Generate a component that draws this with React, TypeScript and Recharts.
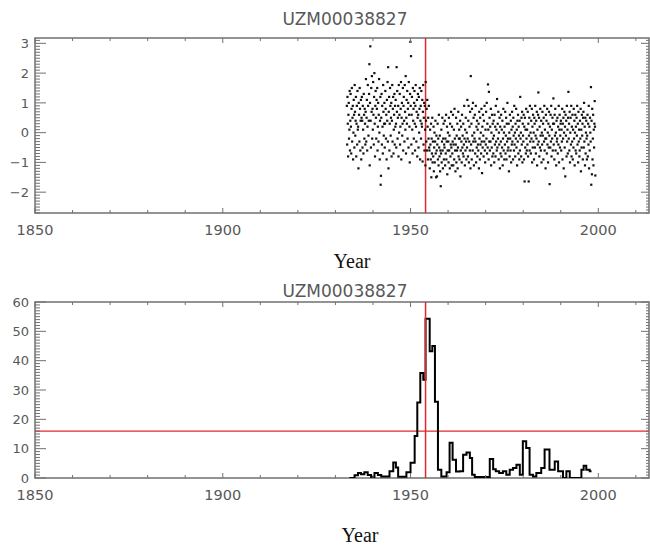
import React from "react";
import {ComposedChart, Scatter, Line, XAxis, YAxis, ReferenceLine, ReferenceArea} from "recharts";

const STATION = "UZM00038827";
const X_LABEL_TICKS = [1850, 1900, 1950, 2000];
const X_TICKS = [1850, 1860, 1870, 1880, 1890, 1900, 1910, 1920, 1930, 1940, 1950, 1960, 1970, 1980, 1990, 2000, 2010];
const TOP_Y_LABELS = [-2, -1, 0, 1, 2, 3];
const BOTTOM_Y_LABELS = [0, 10, 20, 30, 40, 50, 60];
const BREAK_YEAR = 1954;
const THRESHOLD = 16;

// monthly anomalies, one row per year, starting 1933
const ANOM_START = 1933;
const ANOM_1930S = [
  [0.9, -0.4, 1.2, 0.3, -0.8, 0.6, 1.0, -0.2, 0.1, 1.4, -0.6, 0.4],
  [1.3, 0.2, -0.7, 0.8, 1.5, -0.3, 0.5, 0.9, -0.9, 0.0, 1.1, 0.6],
  [-0.5, 1.6, 0.7, -0.1, 0.4, 1.2, -0.8, 0.3, 0.9, -0.4, 1.4, 0.1],
  [0.2, -1.2, 1.0, 0.6, -0.3, 1.5, 0.8, -0.6, 0.4, 1.1, -0.9, 0.5],
  [1.2, 0.4, -0.5, 0.9, 0.1, -0.7, 1.3, 0.6, -0.2, 0.8, 0.3, -0.4],
  [0.7, 1.8, -0.3, 0.5, 1.1, -0.6, 0.2, 1.6, 0.9, -0.1, 0.4, 1.3],
  [2.3, -1.1, 1.0, 2.9, 0.4, -0.5, 1.5, 0.7, 1.9, -0.2, 0.8, 0.1],
];
const ANOM_1940S = [
  [1.7, 0.6, -0.4, 1.2, 2.0, 0.3, -0.8, 0.9, 1.4, 0.5, -0.2, 1.1],
  [0.8, 1.5, -0.6, 0.2, 1.0, -0.3, 0.6, 1.8, 0.0, -0.9, 0.4, 1.2],
  [-1.75, -1.45, 0.5, 1.3, -0.4, 0.9, 0.2, -0.7, 1.6, 0.7, -0.1, 0.3],
  [1.0, -0.5, 0.3, 1.4, 0.8, -0.2, 0.6, -0.9, 1.1, 0.4, 1.7, -0.3],
  [2.2, -1.2, 0.7, 1.2, -0.6, 0.3, 1.5, 0.9, -0.1, 0.5, 1.0, -0.8],
  [0.4, 1.6, -0.3, 0.8, 1.2, -0.7, 0.1, 0.6, 1.3, -0.4, 0.9, 0.2],
  [1.1, 0.3, -0.5, 2.2, 0.7, 1.4, -0.2, 0.5, 0.9, -0.8, 1.6, 0.0],
  [0.6, 1.3, -0.4, 0.2, 0.8, 1.7, -0.9, 0.5, 1.0, -0.1, 0.3, 1.5],
  [-0.6, 0.9, 1.2, 0.4, -0.3, 1.6, 0.7, 0.1, 1.9, -0.7, 0.5, 1.1],
  [0.3, 1.4, -0.2, 0.8, 1.0, -0.5, 1.7, 0.6, 0.2, -1.0, 1.3, 3.05],
];
const ANOM_1950S = [
  [0.9, 2.57, -0.4, 0.6, 1.2, 0.1, -0.7, 1.5, 0.4, 0.8, -0.2, 1.0],
  [1.4, 0.3, -0.6, 0.9, 1.6, 0.2, -0.3, 0.7, 1.1, -0.8, 0.5, 1.3],
  [0.6, -0.5, 1.2, 0.0, 0.8, 1.5, -0.9, 0.4, 0.9, -0.2, 1.4, 0.3],
  [0.2, 1.1, -0.97, 0.7, 1.6, -0.4, 0.5, 1.0, -0.6, 0.9, 0.1, -1.1],
  [1.7, 0.4, -0.3, 0.8, -0.6, 1.1, 0.2, -0.9, 0.5, -0.2, 0.9, -0.5],
  [-0.6, -1.2, 0.1, -0.4, -0.9, 0.3, -1.5, -0.2, -0.7, 0.5, -1.0, -0.3],
  [-0.8, 0.2, -1.3, -0.5, 0.0, -1.0, -0.3, 0.4, -0.7, -1.5, -0.1, -0.6],
  [-1.47, -0.4, 0.3, -0.9, -0.2, -1.1, 0.6, -0.5, -0.8, -0.1, -1.3, -0.6],
  [-1.8, -0.7, 0.1, -1.0, -0.3, 0.5, -0.6, -1.2, -0.2, 0.3, -0.9, -0.4],
  [-0.5, 0.4, -1.1, -0.2, -0.7, 0.6, -0.9, -0.3, 0.2, -1.4, -0.6, 0.0],
];
const ANOM_1960S = [
  [-0.3, -1.0, 0.5, -0.6, -0.1, -1.2, 0.3, -0.8, -0.4, 0.7, -0.5, -1.1],
  [0.2, -0.7, -0.3, 0.6, -1.1, -0.4, 0.1, -0.9, 0.8, -0.2, -0.6, -1.3],
  [-0.4, 0.5, -1.0, -0.1, -0.6, 0.3, -1.2, -0.5, 0.7, -0.8, -0.2, 0.1],
  [-0.9, -0.2, 0.4, -1.47, -0.6, 0.2, -0.3, -1.0, 0.6, -0.5, -0.1, -0.7],
  [0.3, -0.8, -0.4, 0.9, -0.2, -1.1, 0.1, -0.6, 0.5, -0.3, -0.9, 0.0],
  [-0.5, 1.1, -0.2, -0.8, 0.4, 0.9, -1.0, -0.3, 0.2, -0.6, 0.7, -1.2],
  [1.9, -0.4, 0.3, -0.9, 0.8, -0.1, -0.6, 1.0, -0.3, 0.5, -1.1, 0.0],
  [-0.2, 0.6, -0.7, -0.3, 0.9, -1.0, 0.2, -0.5, 0.4, -0.8, 0.1, -0.4],
  [-0.6, 0.3, -1.2, 0.7, -0.2, -0.9, 0.5, -0.4, 0.0, -0.7, 0.8, -0.3],
  [-1.36, 0.2, -0.5, 0.6, -0.1, -0.8, 0.4, -0.3, 0.9, -0.6, -1.0, 0.1],
];
const ANOM_1970S = [
  [-0.4, 0.7, -0.2, 1.0, -0.7, 0.3, -0.5, 1.62, 0.1, -0.9, 1.37, -0.3],
  [0.5, -0.6, 0.2, -0.3, 0.8, -1.1, 0.0, -0.5, 0.6, -0.8, 0.3, -0.2],
  [-0.7, 0.4, -0.1, -1.0, 0.6, -0.4, 0.2, -0.8, 0.9, -0.3, 0.1, -0.6],
  [1.13, -0.5, 0.3, -0.2, 0.7, -0.9, 0.0, -0.4, 0.5, -1.2, 0.2, -0.7],
  [-0.3, 0.6, -0.8, 0.1, -0.5, 0.4, -1.1, -0.2, 0.8, -0.6, 0.0, -0.9],
  [0.2, -0.4, 0.7, -0.7, -0.1, 0.5, -0.9, 0.3, -0.3, 1.0, -0.6, -0.2],
  [-0.5, 0.3, -1.3, 0.0, -0.8, 0.6, -0.2, -0.6, 0.4, -1.0, 0.1, -0.4],
  [0.7, -0.3, 0.2, -0.9, 0.5, -0.1, -0.6, 0.9, -0.4, 0.0, -0.8, 0.3],
  [-0.2, 0.8, -0.5, 0.1, -1.1, 0.4, -0.3, 0.6, -0.7, 0.2, -0.1, -0.9],
  [0.4, -0.6, 1.2, -0.2, 0.0, -0.8, 0.5, -0.4, 0.7, -1.0, 0.3, -0.1],
];
const ANOM_1980S = [
  [-0.3, 0.6, -0.9, 0.2, -1.64, 0.5, -0.5, 0.1, -0.7, 0.8, -0.2, -0.6],
  [0.1, -0.4, 0.7, -0.8, 0.3, -1.64, -0.1, 0.5, -0.6, 0.9, -0.3, 0.0],
  [-0.7, 0.4, -0.2, 0.8, -1.0, 0.2, -0.5, 0.6, -0.3, 0.0, -0.9, 0.5],
  [0.3, -0.5, 0.9, -0.1, -0.7, 0.4, -0.2, 0.7, -1.1, 0.1, -0.4, 0.6],
  [1.35, -0.3, 0.5, -0.8, 0.2, -0.5, 0.8, -0.1, -0.6, 0.4, -1.0, 0.0],
  [-0.4, 0.7, -0.1, 0.3, -0.9, 0.5, -0.3, 0.9, -0.6, 0.1, -0.2, -1.2],
  [0.6, -0.2, 0.4, -0.7, 0.8, -0.4, 0.0, -1.0, 0.3, -0.5, 0.7, -0.1],
  [-1.73, 0.2, -0.5, 0.6, -0.3, 0.9, -0.8, 0.1, -0.2, 0.5, -0.6, 0.3],
  [1.15, -0.4, 0.3, -0.9, 0.6, -0.1, 0.8, -0.6, 0.0, -1.1, 0.4, -0.3],
  [-0.2, 0.5, -0.7, 0.2, -0.4, 0.9, -1.0, 0.1, 0.6, -0.5, -0.1, 0.3],
];
const ANOM_1990S = [
  [0.4, -0.6, 0.1, -0.3, 0.8, -0.9, 0.3, -0.2, 0.5, -1.2, 0.0, 0.7],
  [-0.5, 0.2, -1.47, 0.6, -0.1, 0.4, -0.8, 0.9, -0.3, 0.1, -0.7, 0.5],
  [1.37, -0.2, 0.3, -0.6, 0.7, -1.0, 0.0, 0.5, -0.4, 0.9, -0.8, 0.2],
  [-0.3, 0.6, -0.9, 0.1, -0.5, 0.8, -0.2, 0.4, -1.1, 0.0, 0.6, -0.6],
  [0.2, -0.7, 0.5, -0.1, 0.9, -0.4, 0.3, -1.0, 0.7, -0.3, 0.1, -0.8],
  [-0.6, 0.4, -0.2, 0.8, -1.3, 0.1, -0.5, 0.6, -0.1, 0.3, -0.9, 0.5],
  [0.7, -0.5, 1.0, -0.3, 0.2, -1.1, 0.5, -0.7, 0.0, 0.4, -0.2, -0.9],
  [-0.1, 0.6, -0.8, 0.3, -0.4, 0.9, -1.2, 0.2, -0.6, 0.5, 0.0, -0.3],
  [1.53, -1.75, 0.4, -1.4, 0.8, -0.9, -0.2, 0.6, -1.1, 0.1, -0.5, 0.3],
  [1.06, 0.2, -1.44],
];

// step series: start of each step and its value
const COUNT_YEARS = [
  1933.7, 1935.1, 1936.0, 1936.8, 1937.7, 1938.6, 1939.5, 1940.4, 1941.3, 1942.2,
  1944.4, 1945.4, 1946.1, 1946.7, 1948.9, 1950.0, 1951.1, 1951.8, 1952.6, 1953.4,
  1954.0, 1955.1, 1955.8, 1956.5, 1957.3, 1958.2, 1959.6, 1960.4, 1961.2, 1962.1,
  1963.1, 1964.0, 1964.9, 1965.8, 1966.4, 1967.1, 1971.1, 1972.0, 1972.7, 1973.6,
  1974.6, 1975.5, 1976.4, 1977.3, 1978.2, 1979.1, 1979.9, 1980.8, 1981.7, 1982.6,
  1983.5, 1984.8, 1985.7, 1987.0, 1988.4, 1989.3, 1990.6, 1991.5, 1992.4, 1995.5,
  1996.1, 1996.8, 1997.7, 1998.2,
];
const COUNT_VALUES = [
  0, 0.9, 1.7, 1.3, 2.0, 1.0, 0.3, 1.7, 1.0, 0.5,
  2.3, 5.3, 3.6, 0.4, 2.0, 5.2, 14.3, 25.7, 35.8, 33.5,
  54.3, 43.2, 45.0, 26.0, 2.8, 0.5, 2.0, 12.0, 6.2, 2.2,
  2.3, 7.9, 8.7, 6.8, 1.1, 0.3, 6.5, 3.0, 2.3, 1.7,
  2.3, 1.1, 2.8, 3.4, 4.5, 1.1, 12.5, 10.2, 1.1, 0.5,
  1.7, 3.4, 9.7, 2.8, 5.6, 2.3, 0, 2.3, 0, 2.8,
  4.2, 2.8, 2.3, 2.3,
];

const anomPoints = [...ANOM_1930S, ...ANOM_1940S, ...ANOM_1950S, ...ANOM_1960S, ...ANOM_1970S, ...ANOM_1980S, ...ANOM_1990S]
  .flatMap((row, i) => row.map((v, m) => ({year: ANOM_START + i + (m + 0.5) / 12, v})));
const countData = COUNT_YEARS.map((year, i) => ({year, n: COUNT_VALUES[i]}));

const topMinor = Array.from({length: 59}, (_, i) => Math.round((-2.7 + i * 0.1) * 10) / 10);
const bottomMinor = Array.from({length: 61}, (_, i) => i);

const X_DOMAIN = [1850, 2013.5];
const LEFT = 35;
const RIGHT = 649;
const AXIS = "#707070";
const TEXT = "#585858";
const RED = "#e3262b";
const SANS = "'DejaVu Sans', sans-serif";

const makeXTick = (top: number, bottom: number) => (p: any) => {
  const v = p.payload.value;
  const labelled = X_LABEL_TICKS.includes(v);
  const len = labelled ? 5 : 3;
  return (
    <g>
      <line x1={p.x} x2={p.x} y1={bottom} y2={bottom - len} stroke={AXIS}/>
      <line x1={p.x} x2={p.x} y1={top} y2={top + len} stroke={AXIS}/>
      {labelled && (
        <text x={p.x} y={bottom + 22} textAnchor="middle" fill={TEXT} fontSize={14.5} fontFamily={SANS}>{v}</text>
      )}
    </g>
  );
};

const makeYTick = (labels: number[]) => (p: any) => {
  const v = p.payload.value;
  const labelled = labels.includes(v);
  return (
    <g>
      <line x1={LEFT} x2={LEFT + (labelled ? 11 : 5)} y1={p.y} y2={p.y} stroke={AXIS}/>
      <line x1={RIGHT} x2={RIGHT - (labelled ? 8 : 3)} y1={p.y} y2={p.y} stroke={AXIS}/>
      {labelled && (
        <text x={29} y={p.y + 4.7} textAnchor="end" fill={TEXT} fontSize={13} fontFamily={SANS}>
          {v < 0 ? `\u2212${-v}` : v}
        </text>
      )}
    </g>
  );
};

const dot = (p: any) => <rect x={p.cx - 1.1} y={p.cy - 1.1} width={2.2} height={2.2} fill="#111"/>;

export default function App() {
  return (
    <div style={{position: "absolute", left: 0, top: 0, width: 650, height: 548, background: "#fff"}}>
      <div style={{position: "absolute", left: 0, top: 0}}>
        <ComposedChart width={650} height={260} margin={{top: 38, right: 1, bottom: 17, left: 0}}>
          <XAxis type="number" dataKey="year" domain={X_DOMAIN} ticks={X_TICKS} interval={0}
                 allowDataOverflow axisLine={false} tickLine={false} height={30}
                 tick={makeXTick(38, 213)}/>
          <YAxis type="number" dataKey="v" domain={[-2.7, 3.18]} ticks={topMinor} interval={0}
                 allowDataOverflow axisLine={false} tickLine={false} width={35}
                 tick={makeYTick(TOP_Y_LABELS)}/>
          <ReferenceArea x1={X_DOMAIN[0]} x2={X_DOMAIN[1]} y1={-2.7} y2={3.18}
                         fill="none" fillOpacity={0} stroke={AXIS} strokeWidth={1.5}/>
          <Scatter data={anomPoints} dataKey="v" shape={dot} isAnimationActive={false}/>
          <ReferenceLine x={BREAK_YEAR} stroke={RED} strokeWidth={1.5}/>
        </ComposedChart>
      </div>
      <div style={{position: "absolute", left: 0, top: 264}}>
        <ComposedChart width={650} height={270} data={countData} margin={{top: 38, right: 1, bottom: 26, left: 0}}>
          <XAxis type="number" dataKey="year" domain={X_DOMAIN} ticks={X_TICKS} interval={0}
                 allowDataOverflow axisLine={false} tickLine={false} height={30}
                 tick={makeXTick(38, 214)}/>
          <YAxis type="number" dataKey="n" domain={[0, 60]} ticks={bottomMinor} interval={0}
                 allowDataOverflow axisLine={false} tickLine={false} width={35}
                 tick={makeYTick(BOTTOM_Y_LABELS)}/>
          <ReferenceArea x1={X_DOMAIN[0]} x2={X_DOMAIN[1]} y1={0} y2={60}
                         fill="none" fillOpacity={0} stroke={AXIS} strokeWidth={1.5}/>
          <ReferenceLine y={THRESHOLD} stroke={RED} strokeWidth={1.2}/>
          <Line type="stepAfter" dataKey="n" stroke="#000" strokeWidth={2} dot={false} isAnimationActive={false}/>
          <ReferenceLine x={BREAK_YEAR} stroke={RED} strokeWidth={1.5}/>
        </ComposedChart>
      </div>
      <svg width={650} height={548} style={{position: "absolute", left: 0, top: 0, pointerEvents: "none"}}>
        <text x={345} y={25} textAnchor="middle" fill={TEXT} fontSize={17} fontFamily={SANS}>{STATION}</text>
        <text x={352} y={268} textAnchor="middle" fill="#111" fontSize={20} fontFamily="'Liberation Serif', serif">Year</text>
        <text x={345} y={297} textAnchor="middle" fill={TEXT} fontSize={17} fontFamily={SANS}>{STATION}</text>
        <text x={360} y={542} textAnchor="middle" fill="#111" fontSize={20} fontFamily="'Liberation Serif', serif">Year</text>
      </svg>
    </div>
  );
}
